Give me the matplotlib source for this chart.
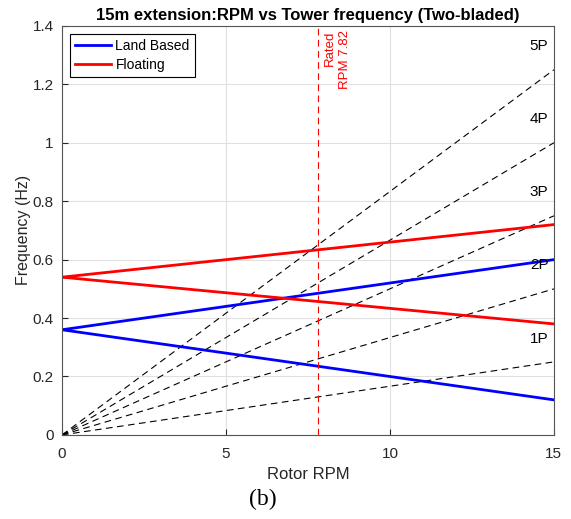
import numpy as np
import matplotlib
matplotlib.use('Agg')
import matplotlib.pyplot as plt

plt.rcParams['font.family'] = ['Liberation Sans', 'DejaVu Sans']

rpm = [0, 15]
land_up = [0.36, 0.60]
land_down = [0.36, 0.12]
float_up = [0.54, 0.72]
float_down = [0.54, 0.38]
harm_names = ['1P', '2P', '3P', '4P', '5P']
harm_end = [0.25, 0.50, 0.75, 1.00, 1.25]  # frequency at 15 rpm
rated_rpm = 7.82

axcol = '#262626'

fig = plt.figure(figsize=(5.71, 5.19), dpi=100)
ax = fig.add_axes([0.1086, 0.162, 0.8614, 0.788])

for name, f in zip(harm_names, harm_end):
    ax.plot(rpm, [0, f], color='k', linestyle=(0, (6, 4)), linewidth=0.8)
    ax.text(14.55, f + 0.08, name, ha='center', va='center', fontsize=11, color='k')

l1, = ax.plot(rpm, land_up, color='#0000ff', linewidth=2, label='Land Based')
ax.plot(rpm, land_down, color='#0000ff', linewidth=2)
l2, = ax.plot(rpm, float_up, color='#ff0000', linewidth=2, label='Floating')
ax.plot(rpm, float_down, color='#ff0000', linewidth=2)

ax.axvline(rated_rpm, color='#ff0000', linestyle=(0, (6, 4)), linewidth=0.8)
ax.text(rated_rpm + 0.17, 1.385, 'Rated\nRPM %.2f' % rated_rpm, rotation=90,
        ha='left', va='top', multialignment='right', color='#ff0000', fontsize=9.5,
        linespacing=1.35)

ax.set_xlim(0, 15)
ax.set_ylim(0, 1.4)
ax.set_xticks([0, 5, 10, 15])
ax.set_yticks(np.arange(0, 1.41, 0.2))
ax.set_yticklabels(['0', '0.2', '0.4', '0.6', '0.8', '1', '1.2', '1.4'])
ax.grid(True, color='#e0e0e0', linewidth=0.8)
ax.set_axisbelow(True)
ax.tick_params(direction='in', length=4, colors=axcol, labelsize=11, pad=6)
ax.tick_params(axis='x', pad=9)
for s in ax.spines.values():
    s.set_color('#555555')
    s.set_linewidth(0.8)

ax.set_xlabel('Rotor RPM', fontsize=12, color=axcol, labelpad=4)
ax.set_ylabel('Frequency (Hz)', fontsize=11.5, color=axcol, labelpad=1)
ax.set_title('15m extension:RPM vs Tower frequency (Two-bladed)', fontsize=12,
             fontweight='bold', pad=4)

leg = ax.legend(handles=[l1, l2], loc='upper left', fontsize=10, fancybox=False,
                edgecolor='k', framealpha=1, handlelength=2.6, borderaxespad=0.6,
                labelspacing=0.35, handletextpad=0.3, borderpad=0.35)
leg.get_frame().set_linewidth(0.8)

fig.text(0.461, 0.037, '(b)', ha='center', va='center', fontsize=17,
         family='Liberation Serif')

fig.savefig('out.png', dpi=100)
